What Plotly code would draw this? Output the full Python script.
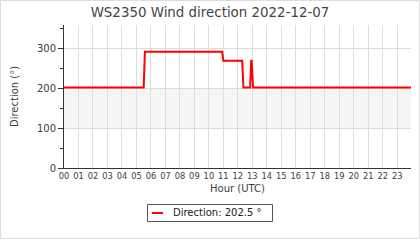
import plotly.graph_objects as go

# ---- data ----
hours = [0, 5.5, 5.583, 10.917, 11.0, 12.3, 12.383, 12.85, 12.917, 12.95, 13.05, 23.95]
direction = [202.5, 202.5, 292.5, 292.5, 270, 270, 202.5, 202.5, 270, 270, 202.5, 202.5]
hour_ticks = list(range(24))
hour_labels = ["%02d" % h for h in hour_ticks]
y_ticks = [0, 100, 200, 300]
band = [100, 200]
title = "WS2350 Wind direction 2022-12-07"
legend_label = "Direction: %.1f °" % direction[-1]

W, H = 420, 240
L, R, T, B = 64, 9, 25, 72
pw, ph = W - L - R, H - T - B

def px(x):
    return (x - L) / pw

def py(y):
    return 1 - (y - T) / ph

FONT = "DejaVu Sans"
TXT = "#404040"

fig = go.Figure()
fig.add_trace(go.Scatter(x=hours, y=direction, mode="lines",
                         line=dict(color="#ff0000", width=2), showlegend=False,
                         hoverinfo="skip"))

shapes = [
    dict(type="rect", xref="paper", yref="y", x0=0, x1=1, y0=band[0], y1=band[1],
         fillcolor="#f5f5f5", line=dict(width=0), layer="below"),
    # outer border
    dict(type="rect", xref="paper", yref="paper", x0=px(0.5), x1=px(419.5),
         y0=py(238.5), y1=py(0.5), line=dict(color="#dddddd", width=1)),
    # legend box
    dict(type="rect", xref="paper", yref="paper", x0=px(147.5), x1=px(272.5),
         y0=py(221.5), y1=py(204.5), line=dict(color="#555555", width=1),
         fillcolor="white"),
    dict(type="line", xref="paper", yref="paper", x0=px(152), x1=px(163),
         y0=py(213), y1=py(213), line=dict(color="#ff0000", width=2)),
]

annotations = [
    dict(text=legend_label, xref="paper", yref="paper", x=px(171), y=py(213),
         xanchor="left", yanchor="middle", showarrow=False,
         font=dict(family=FONT, size=10, color="#202020")),
    dict(text="Direction (°)", xref="paper", yref="paper", x=px(14), y=py(97),
         xanchor="center", yanchor="middle", textangle=-90, showarrow=False,
         font=dict(family=FONT, size=10, color=TXT)),
    dict(text="Hour (UTC)", xref="paper", yref="paper", x=px(237), y=py(188),
         xanchor="center", yanchor="middle", showarrow=False,
         font=dict(family=FONT, size=10, color=TXT)),
]

fig.update_layout(
    width=W, height=H, margin=dict(l=L, r=R, t=T, b=B, pad=0),
    paper_bgcolor="white", plot_bgcolor="white",
    font=dict(family=FONT, size=10, color=TXT),
    title=dict(text=title, x=0.5, xref="container", xanchor="center",
               y=1 - 12 / H, yref="container", yanchor="middle",
               font=dict(family=FONT, size=13.4, color="#444444")),
    shapes=shapes, annotations=annotations, showlegend=False,
    xaxis=dict(range=[0, hours[-1]], tickvals=hour_ticks, ticktext=hour_labels,
               showgrid=True, gridcolor="#dddddd", gridwidth=1,
               showline=True, linecolor="#333333", linewidth=1,
               ticks="", tickfont=dict(family=FONT, size=8.3, color=TXT),
               zeroline=False, fixedrange=True),
    yaxis=dict(range=[0, 360], tickvals=y_ticks,
               showgrid=True, gridcolor="#dddddd", gridwidth=1,
               showline=True, linecolor="#333333", linewidth=1,
               ticks="outside", ticklen=5, tickcolor="#333333",
               minor=dict(dtick=50, tick0=0, ticks="outside", ticklen=3,
                          tickcolor="#333333", showgrid=False),
               tickfont=dict(family=FONT, size=10, color=TXT),
               zeroline=False, fixedrange=True),
)

fig.write_html("out.html", config={"displayModeBar": False})
